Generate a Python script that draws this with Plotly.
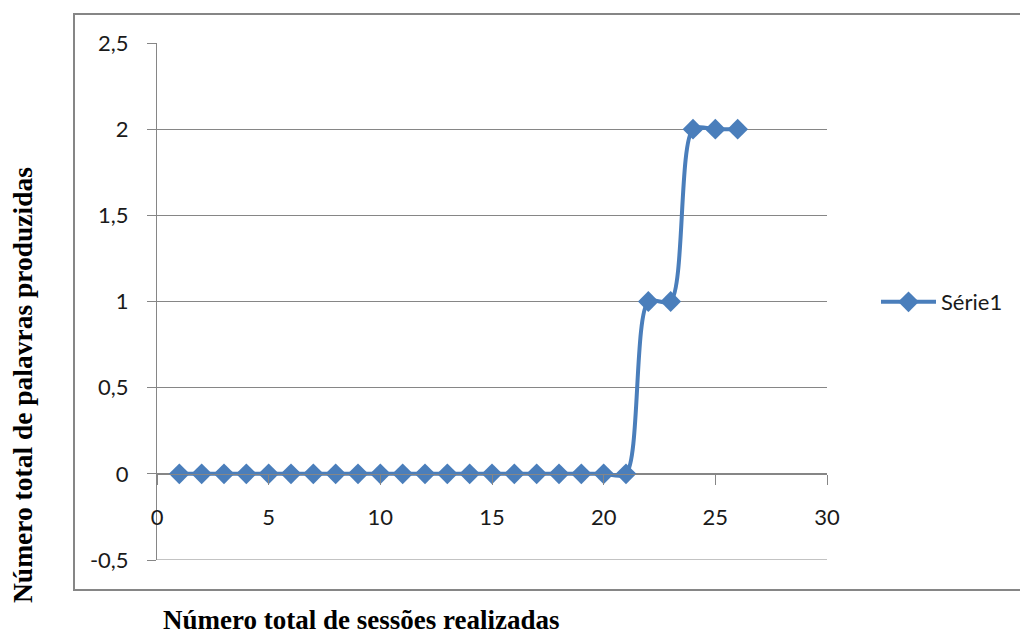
import plotly.graph_objects as go

# Sessões 1..26 e número de palavras produzidas em cada uma
sessoes = list(range(1, 27))
palavras = [0] * 21 + [1, 1, 2, 2, 2]
serie_nome = "Série1"

x_ticks = [0, 5, 10, 15, 20, 25, 30]
y_ticks = [-0.5, 0, 0.5, 1, 1.5, 2, 2.5]

W, H = 1020, 635
L, R, T, B = 157, 827, 43, 560  # plot area in pixels
pw, ph = R - L, B - T


def px_x(v):
    return (v - L) / pw


def px_y(v):
    return (B - v) / ph


azul = "#4A7EBB"
cinza = "#868686"
tick_font = dict(family="Lato, Open Sans, sans-serif", size=22, color="#1a1a1a")
title_font_x = dict(family="Liberation Serif, Times New Roman, serif", size=27, color="black")
title_font_y = dict(family="Liberation Serif, Times New Roman, serif", size=27.5, color="black")

fig = go.Figure()
fig.add_trace(go.Scatter(
    x=sessoes, y=palavras, name=serie_nome,
    mode="lines+markers",
    line=dict(color=azul, width=4, shape="spline", smoothing=0.8),
    marker=dict(symbol="diamond", size=16, color=azul),
    showlegend=True,
))

fig.update_layout(
    width=W, height=H,
    margin=dict(l=L, r=W - R, t=T, b=H - B),
    paper_bgcolor="white", plot_bgcolor="white",
    separators=", ",
    showlegend=True,
    legend=dict(
        x=px_x(876), y=px_y(302), xanchor="left", yanchor="middle",
        font=tick_font, itemwidth=55, bgcolor="rgba(0,0,0,0)",
    ),
    xaxis=dict(
        range=[0, 30], tickvals=x_ticks, ticktext=[str(v) for v in x_ticks],
        anchor="free", position=0.5 / 3,
        showgrid=False, zeroline=False,
        showline=True, linecolor=cinza, linewidth=1,
        ticks="outside", ticklen=10, tickcolor=cinza, tickwidth=1,
        tickfont=tick_font, ticklabelstandoff=14,
    ),
    yaxis=dict(
        range=[-0.5, 2.5], tickvals=y_ticks,
        ticktext=[f"{v:g}".replace(".", ",") for v in y_ticks],
        showgrid=True, gridcolor=cinza, gridwidth=1,
        zeroline=False,
        showline=True, linecolor=cinza, linewidth=1,
        ticks="outside", ticklen=9, tickcolor=cinza, tickwidth=1,
        tickfont=tick_font, ticklabelstandoff=14,
    ),
    shapes=[
        dict(type="rect", xref="paper", yref="paper",
             x0=px_x(74), x1=px_x(1030), y0=px_y(590), y1=px_y(14),
             line=dict(color=cinza, width=2), fillcolor="rgba(0,0,0,0)", layer="below"),
        # bottom gridline at -0.5
        dict(type="line", xref="paper", yref="y", x0=0, x1=1, y0=-0.5, y1=-0.5,
             line=dict(color=cinza, width=1), layer="below"),
    ],
    annotations=[
        dict(text="<b>Número total de sessões realizadas</b>", xref="paper", yref="paper",
             x=px_x(161), y=px_y(620), xanchor="left", yanchor="middle", showarrow=False,
             font=title_font_x),
        dict(text="<b>Número total de palavras produzidas</b>", xref="paper", yref="paper",
             x=px_x(22), y=px_y(385), xanchor="center", yanchor="middle", showarrow=False,
             textangle=-90, font=title_font_y),
    ],
)

fig.write_html("out.html")
